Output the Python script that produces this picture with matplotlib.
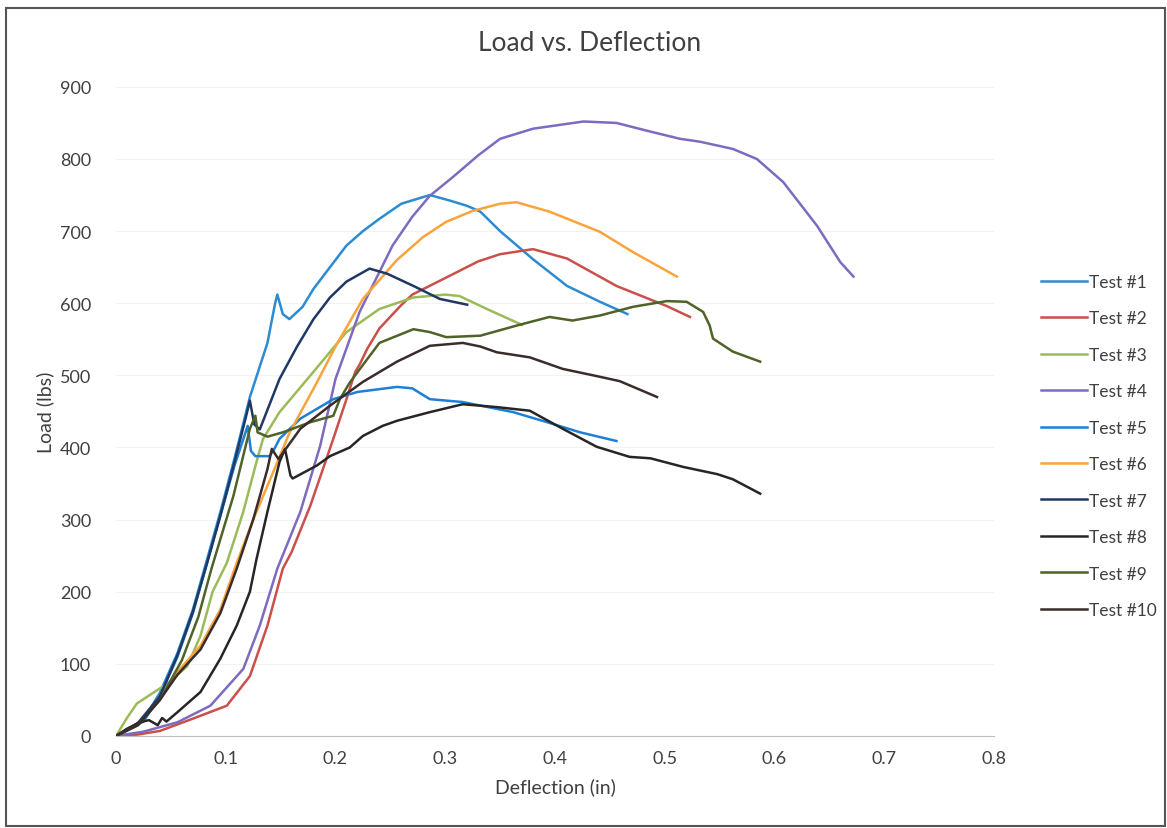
import matplotlib
matplotlib.use("Agg")
import matplotlib.pyplot as plt
from matplotlib.patches import Rectangle

plt.rcParams['font.family'] = ['Lato', 'DejaVu Sans']

# deflection (in) / load (lbs)
t1_x = [0, 0.025, 0.04, 0.056, 0.07, 0.083, 0.095, 0.108, 0.122, 0.138, 0.145, 0.147,
        0.152, 0.158, 0.17, 0.18, 0.195, 0.21, 0.225, 0.24, 0.26, 0.286, 0.305, 0.32,
        0.332, 0.35, 0.38, 0.411, 0.441, 0.466]
t1_y = [0, 22, 60, 115, 175, 245, 310, 385, 470, 545, 600, 612,
        585, 578, 595, 620, 650, 680, 700, 717, 738, 750, 742, 735,
        727, 700, 661, 624, 602, 585]

t2_x = [0, 0.02, 0.04, 0.07, 0.101, 0.122, 0.138, 0.152, 0.16, 0.177, 0.198, 0.21,
        0.218, 0.222, 0.229, 0.24, 0.259, 0.27, 0.304, 0.33, 0.35, 0.38, 0.411, 0.456,
        0.502, 0.523]
t2_y = [0, 2, 7, 24, 42, 83, 153, 232, 255, 319, 412, 467,
        505, 515, 537, 565, 596, 612, 638, 658, 668, 675, 662, 624,
        596, 581]

t3_x = [0, 0.01, 0.019, 0.034, 0.049, 0.065, 0.077, 0.088, 0.101, 0.116, 0.128, 0.134,
        0.149, 0.18, 0.21, 0.24, 0.271, 0.3, 0.313, 0.338, 0.37]
t3_y = [0, 25, 45, 60, 75, 97, 139, 200, 240, 311, 380, 412,
        449, 505, 560, 592, 608, 612, 610, 592, 570]

t4_x = [0, 0.025, 0.056, 0.086, 0.116, 0.131, 0.147, 0.168, 0.186, 0.2, 0.222, 0.252,
        0.27, 0.286, 0.307, 0.33, 0.35, 0.38, 0.426, 0.456, 0.487, 0.514, 0.532, 0.562,
        0.584, 0.608, 0.639, 0.66, 0.672]
t4_y = [0, 6, 19, 42, 93, 153, 232, 311, 402, 495, 588, 680,
        720, 749, 775, 805, 828, 842, 852, 850, 838, 828, 824, 814,
        800, 768, 707, 657, 637]

t5_x = [0, 0.025, 0.04, 0.056, 0.07, 0.083, 0.095, 0.108, 0.12, 0.123, 0.127, 0.14,
        0.145, 0.149, 0.168, 0.198, 0.22, 0.256, 0.27, 0.286, 0.316, 0.362, 0.393,
        0.423, 0.456]
t5_y = [0, 20, 55, 110, 170, 240, 305, 375, 430, 395, 388, 388,
        400, 412, 440, 467, 477, 484, 482, 467, 463, 449, 435,
        421, 409]

t6_x = [0, 0.02, 0.04, 0.056, 0.077, 0.095, 0.11, 0.125, 0.143, 0.158, 0.183, 0.2,
        0.225, 0.256, 0.28, 0.301, 0.325, 0.35, 0.365, 0.395, 0.441, 0.471, 0.511]
t6_y = [0, 18, 52, 89, 125, 175, 240, 300, 365, 420, 490, 540,
        606, 660, 692, 713, 728, 738, 740, 727, 699, 671, 637]

t7_x = [0, 0.02, 0.04, 0.056, 0.07, 0.083, 0.095, 0.108, 0.118, 0.122, 0.126, 0.131,
        0.149, 0.165, 0.18, 0.195, 0.21, 0.231, 0.247, 0.271, 0.295, 0.32]
t7_y = [0, 18, 55, 112, 172, 240, 305, 380, 440, 465, 432, 425,
        495, 540, 578, 608, 630, 648, 641, 624, 606, 598]

t8_x = [0, 0.01, 0.022, 0.03, 0.038, 0.042, 0.046, 0.056, 0.077, 0.095, 0.11, 0.122,
        0.128, 0.138, 0.149, 0.154, 0.159, 0.161, 0.183, 0.195, 0.213, 0.225, 0.243,
        0.256, 0.286, 0.316, 0.347, 0.377, 0.407, 0.438, 0.468, 0.487, 0.517, 0.548,
        0.562, 0.587]
t8_y = [0, 10, 19, 22, 15, 25, 20, 33, 61, 107, 153, 200,
        245, 311, 380, 398, 361, 357, 375, 388, 400, 416, 430,
        437, 449, 460, 456, 451, 426, 401, 387, 385, 373, 363,
        356, 336]

t9_x = [0, 0.02, 0.04, 0.06, 0.075, 0.087, 0.107, 0.122, 0.127, 0.129, 0.138, 0.152,
        0.177, 0.198, 0.204, 0.213, 0.24, 0.271, 0.286, 0.301, 0.332, 0.365, 0.395,
        0.416, 0.441, 0.471, 0.502, 0.52, 0.535, 0.541, 0.544, 0.562, 0.587]
t9_y = [0, 15, 50, 105, 165, 232, 333, 426, 444, 421, 415, 421,
        435, 444, 467, 490, 545, 564, 560, 553, 555, 569, 581,
        576, 583, 595, 603, 602, 588, 569, 551, 533, 519]

t10_x = [0, 0.02, 0.04, 0.056, 0.077, 0.095, 0.11, 0.125, 0.138, 0.142, 0.148, 0.168,
         0.195, 0.225, 0.256, 0.286, 0.316, 0.332, 0.347, 0.377, 0.407, 0.438, 0.459,
         0.493]
t10_y = [0, 15, 50, 85, 120, 170, 232, 300, 370, 398, 384, 426,
         458, 491, 519, 541, 545, 540, 532, 525, 509, 499, 492,
         470]

labels = ['Test #1', 'Test #2', 'Test #3', 'Test #4', 'Test #5',
          'Test #6', 'Test #7', 'Test #8', 'Test #9', 'Test #10']
xs = [t1_x, t2_x, t3_x, t4_x, t5_x, t6_x, t7_x, t8_x, t9_x, t10_x]
ys = [t1_y, t2_y, t3_y, t4_y, t5_y, t6_y, t7_y, t8_y, t9_y, t10_y]
colors = ['#2B8BD3', '#C9504B', '#9BBB59', '#7E6AC0', '#1E7FD6',
          '#F9A43B', '#1F3864', '#262626', '#4F6228', '#3B2C2C']

fig = plt.figure(figsize=(11.67, 8.29), dpi=100)
ax = fig.add_axes([0.0994, 0.111, 0.7523, 0.783])

for x, y, c, lab in zip(xs, ys, colors, labels):
    ax.plot(x, y, color=c, lw=1.8, label=lab, solid_joinstyle='round')

ax.set_xlim(0, 0.8)
ax.set_ylim(0, 900)
ax.set_xticks([0, 0.1, 0.2, 0.3, 0.4, 0.5, 0.6, 0.7, 0.8])
ax.set_xticklabels(['0', '0.1', '0.2', '0.3', '0.4', '0.5', '0.6', '0.7', '0.8'])
ax.set_yticks(range(0, 901, 100))
ax.tick_params(length=0, labelsize=13, colors='#404040')
ax.tick_params(axis='x', pad=10)
ax.tick_params(axis='y', pad=18)
for s in ['top', 'right', 'left']:
    ax.spines[s].set_visible(False)
ax.spines['bottom'].set_color('#BFBFBF')
ax.grid(axis='y', color='#F2F2F2', lw=0.8)
ax.set_axisbelow(True)

# title sits centred on the whole chart area, not the plot
fig.text(0.5056, 0.947, 'Load vs. Deflection', fontsize=19, color='#404040',
         ha='center', va='center')
ax.set_xlabel('Deflection (in)', fontsize=14, color='#404040', labelpad=8)
ax.set_ylabel('Load (lbs)', fontsize=14, color='#404040', labelpad=4)

fig.legend(loc='center left', bbox_to_anchor=(0.879, 0.461), frameon=False,
           fontsize=12.5, labelspacing=1.18, handlelength=2.6, handletextpad=0.15,
           labelcolor='#404040')

fig.patches.append(Rectangle((0.005, 0.003), 0.993, 0.986, transform=fig.transFigure,
                             fill=False, edgecolor='#555555', lw=1.5))

fig.savefig('out.png', dpi=100)
